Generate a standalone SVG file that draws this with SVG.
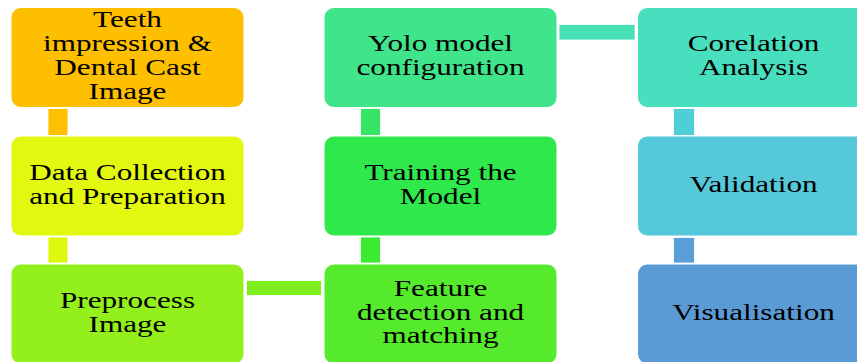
<svg xmlns="http://www.w3.org/2000/svg" width="857" height="362" viewBox="0 0 857 362">
  <style>
    .box { stroke: #ffffff; stroke-width: 1; }
    .link { stroke: #ffffff; stroke-width: 0.8; }
    .lbl { font-family: "Liberation Serif", "Times New Roman", serif; font-size: 24px; fill: #000000; text-anchor: middle; }
  </style>
  <rect width="857" height="362" fill="#ffffff"/>

  <!-- connectors between process steps -->
  <g id="connectors">
    <rect class="link" x="48" y="108.5" width="20" height="27" fill="#FDC102"/>
    <rect class="link" x="48" y="237" width="20" height="26" fill="#DEF70F"/>
    <rect class="link" x="246.5" y="280.5" width="75" height="15" fill="#7EEE21"/>
    <rect class="link" x="360.5" y="237" width="20" height="26" fill="#3CEA31"/>
    <rect class="link" x="360.5" y="108.5" width="20" height="27" fill="#36E566"/>
    <rect class="link" x="559" y="24.5" width="76" height="15.5" fill="#47E0B4"/>
    <rect class="link" x="673.5" y="108.5" width="21" height="27" fill="#50CED8"/>
    <rect class="link" x="673.5" y="237.5" width="21" height="25.5" fill="#5A9FD7"/>
  </g>

  <g id="teeth-impression">
    <rect class="box" x="11" y="7.5" width="233" height="100" rx="10" fill="#FDBF00"/>
    <g transform="matrix(1.3,0,0,1,127.5,0)">
      <text class="lbl" x="0" y="27.5">Teeth</text>
      <text class="lbl" x="0" y="51.5">impression &amp;</text>
      <text class="lbl" x="0" y="75.5">Dental Cast</text>
      <text class="lbl" x="0" y="99.5">Image</text>
    </g>
  </g>

  <g id="data-collection">
    <rect class="box" x="11" y="136" width="233" height="100" rx="10" fill="#E2F80F"/>
    <g transform="matrix(1.3,0,0,1,127.5,0)">
      <text class="lbl" x="0" y="180">Data Collection</text>
      <text class="lbl" x="0" y="204">and Preparation</text>
    </g>
  </g>

  <g id="preprocess">
    <rect class="box" x="11" y="264" width="233" height="100" rx="10" fill="#93F01C"/>
    <g transform="matrix(1.3,0,0,1,127.5,0)">
      <text class="lbl" x="0" y="308">Preprocess</text>
      <text class="lbl" x="0" y="332">Image</text>
    </g>
  </g>

  <g id="feature-detection">
    <rect class="box" x="324" y="264" width="233" height="100" rx="10" fill="#55EA2C"/>
    <g transform="matrix(1.3,0,0,1,440.5,0)">
      <text class="lbl" x="0" y="296.5">Feature</text>
      <text class="lbl" x="0" y="320">detection and</text>
      <text class="lbl" x="0" y="343.5">matching</text>
    </g>
  </g>

  <g id="training">
    <rect class="box" x="324" y="136" width="233" height="100" rx="10" fill="#2FE84B"/>
    <g transform="matrix(1.3,0,0,1,440.5,0)">
      <text class="lbl" x="0" y="180">Training the</text>
      <text class="lbl" x="0" y="204">Model</text>
    </g>
  </g>

  <g id="yolo-config">
    <rect class="box" x="324" y="7.5" width="233" height="100" rx="10" fill="#40E48B"/>
    <g transform="matrix(1.3,0,0,1,440.5,0)">
      <text class="lbl" x="0" y="51.5">Yolo model</text>
      <text class="lbl" x="0" y="75.5">configuration</text>
    </g>
  </g>

  <g id="corelation">
    <rect class="box" x="637.5" y="7.5" width="233" height="100" rx="10" fill="#48DFBF"/>
    <g transform="matrix(1.3,0,0,1,753.5,0)">
      <text class="lbl" x="0" y="51.5">Corelation</text>
      <text class="lbl" x="0" y="75.5">Analysis</text>
    </g>
  </g>

  <g id="validation">
    <rect class="box" x="637.5" y="136" width="233" height="100" rx="10" fill="#55C8D9"/>
    <g transform="matrix(1.3,0,0,1,753.5,0)">
      <text class="lbl" x="0" y="192">Validation</text>
    </g>
  </g>

  <g id="visualisation">
    <rect class="box" x="637.5" y="264" width="233" height="100" rx="10" fill="#5B9BD5"/>
    <g transform="matrix(1.3,0,0,1,753.5,0)">
      <text class="lbl" x="0" y="320">Visualisation</text>
    </g>
  </g>
</svg>
